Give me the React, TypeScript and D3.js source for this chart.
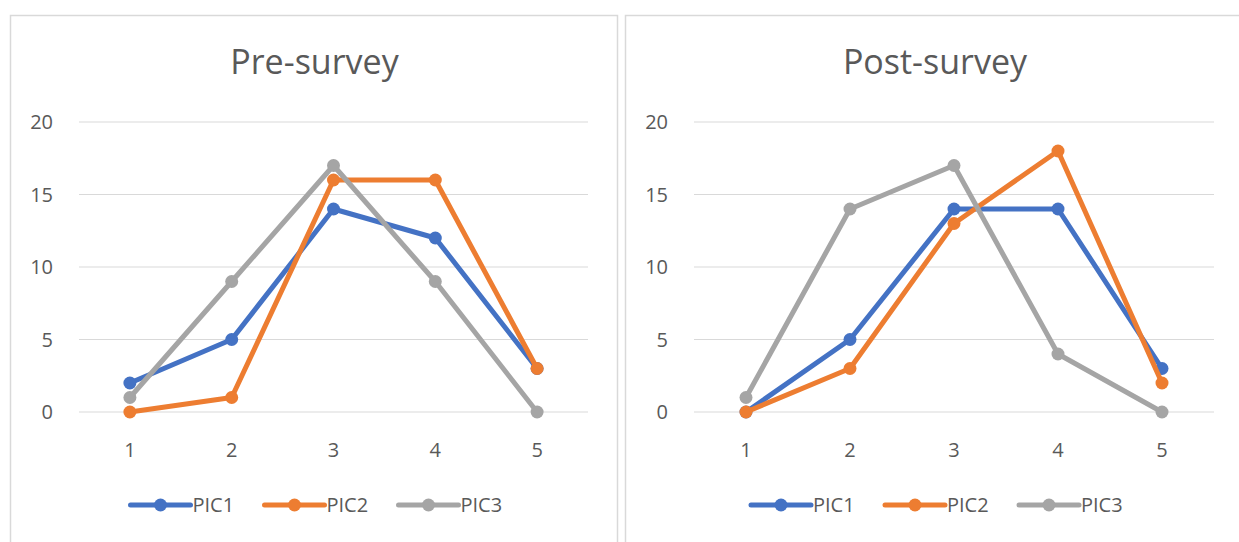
import React, { useEffect, useRef } from 'react';
import * as d3 from 'd3';

const categories = ['1', '2', '3', '4', '5'];
const seriesNames = ['PIC1', 'PIC2', 'PIC3'];
const seriesColors = ['#4472C4', '#ED7D31', '#A5A5A5'];
const yTicks = [0, 5, 10, 15, 20];

const preTitle = 'Pre-survey';
const prePIC1 = [2, 5, 14, 12, 3];
const prePIC2 = [0, 1, 16, 16, 3];
const prePIC3 = [1, 9, 17, 9, 0];

const postTitle = 'Post-survey';
const postPIC1 = [0, 5, 14, 14, 3];
const postPIC2 = [0, 3, 13, 18, 2];
const postPIC3 = [1, 14, 17, 4, 0];

const W = 1239;
const H = 542;
const FONT = '"Open Sans", "Noto Sans", sans-serif';
const TEXT = '#595959';

interface Panel {
  title: string;
  series: number[][];
  box: [number, number];
  plot: [number, number];
}

const panels: Panel[] = [
  { title: preTitle, series: [prePIC1, prePIC2, prePIC3], box: [10, 617], plot: [79, 588] },
  { title: postTitle, series: [postPIC1, postPIC2, postPIC3], box: [625, 1250], plot: [694, 1214] },
];

const App: React.FC = () => {
  const ref = useRef<SVGSVGElement | null>(null);

  useEffect(() => {
    if (!ref.current) return;
    const svg = d3.select(ref.current);
    svg.selectAll('*').remove();

    const y = d3.scaleLinear().domain([0, 20]).range([412, 122]);

    panels.forEach(p => {
      const g = svg.append('g');

      // chart frame
      g.append('rect')
        .attr('x', p.box[0] + 0.5)
        .attr('y', 15.5)
        .attr('width', p.box[1] - p.box[0])
        .attr('height', H + 20)
        .attr('fill', 'white')
        .attr('stroke', '#d9d9d9')
        .attr('stroke-width', 1.5);

      const x = d3.scalePoint<string>()
        .domain(categories)
        .range(p.plot)
        .padding(0.5);

      g.append('text')
        .attr('x', (p.plot[0] + p.plot[1]) / 2 - 19)
        .attr('y', 74)
        .attr('text-anchor', 'middle')
        .attr('font-family', FONT)
        .attr('font-size', 34)
        .attr('fill', TEXT)
        .text(p.title);

      // gridlines + y labels
      yTicks.forEach(t => {
        g.append('line')
          .attr('x1', p.plot[0])
          .attr('x2', p.plot[1])
          .attr('y1', y(t))
          .attr('y2', y(t))
          .attr('stroke', '#d9d9d9')
          .attr('stroke-width', 1.2);
        g.append('text')
          .attr('x', p.plot[0] - 26)
          .attr('y', y(t))
          .attr('dy', '0.35em')
          .attr('text-anchor', 'end')
          .attr('font-family', FONT)
          .attr('font-size', 20)
          .attr('fill', TEXT)
          .text(t);
      });

      categories.forEach(c => {
        g.append('text')
          .attr('x', x(c) || 0)
          .attr('y', 450)
          .attr('dy', '0.35em')
          .attr('text-anchor', 'middle')
          .attr('font-family', FONT)
          .attr('font-size', 20)
          .attr('fill', TEXT)
          .text(c);
      });

      const line = d3.line<number>()
        .x((_, i) => x(categories[i]) || 0)
        .y(d => y(d));

      p.series.forEach((vals, si) => {
        g.append('path')
          .datum(vals)
          .attr('d', line)
          .attr('fill', 'none')
          .attr('stroke', seriesColors[si])
          .attr('stroke-width', 5)
          .attr('stroke-linejoin', 'round')
          .attr('stroke-linecap', 'round');
        g.selectAll(null)
          .data(vals)
          .enter().append('circle')
          .attr('cx', (_, i) => x(categories[i]) || 0)
          .attr('cy', d => y(d))
          .attr('r', 6.5)
          .attr('fill', seriesColors[si]);
      });

      // legend
      const legX = (p.plot[0] + p.plot[1]) / 2 - 203;
      seriesNames.forEach((name, i) => {
        const lx = legX + i * 134;
        const lg = g.append('g').attr('transform', `translate(${lx},505)`);
        lg.append('line')
          .attr('x1', 0).attr('x2', 60)
          .attr('stroke', seriesColors[i])
          .attr('stroke-width', 5)
          .attr('stroke-linecap', 'round');
        lg.append('circle')
          .attr('cx', 30).attr('r', 6.5)
          .attr('fill', seriesColors[i]);
        lg.append('text')
          .attr('x', 62)
          .attr('dy', '0.35em')
          .attr('font-family', FONT)
          .attr('font-size', 20)
          .attr('fill', TEXT)
          .text(name);
      });
    });
  }, []);

  return (
    <svg
      ref={ref}
      width={W}
      height={H}
      style={{ position: 'absolute', left: 0, top: 0, background: 'white' }}
    />
  );
};

export default App;
